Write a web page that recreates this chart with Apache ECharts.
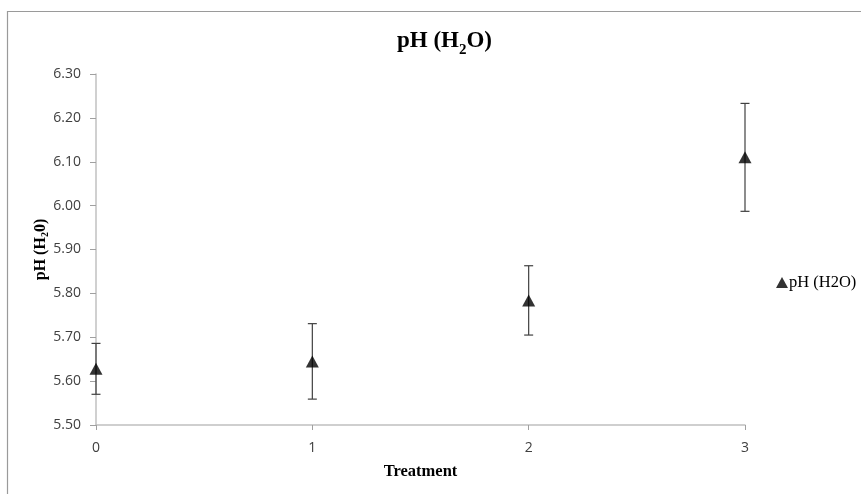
<!DOCTYPE html>
<html>
<head>
<meta charset="utf-8">
<script src="https://cdn.jsdelivr.net/npm/echarts@6/dist/echarts.min.js"></script>
<style>
html,body{margin:0;padding:0;background:#fff;}
#c{width:861px;height:494px;}
</style>
</head>
<body>
<div id="c"></div>
<script>
const treatments = [0, 1, 2, 3];
const phMeans = [5.628, 5.645, 5.784, 6.110];
const phErrors = [0.058, 0.086, 0.079, 0.123];
const yTicks = [5.50, 5.60, 5.70, 5.80, 5.90, 6.00, 6.10, 6.20, 6.30];

const chart = echarts.init(document.getElementById('c'));
const serif = '"Liberation Serif", "Times New Roman", serif';
const sans = '"Open Sans", "Liberation Sans", sans-serif';

const points = treatments.map((t, i) => [t, phMeans[i]]);
const errData = treatments.map((t, i) => [t, phMeans[i] - phErrors[i], phMeans[i] + phErrors[i]]);

chart.setOption({
  animation: false,
  backgroundColor: '#fff',
  graphic: [{
    type: 'polyline',
    shape: { points: [[7.5, 494], [7.5, 11.5], [861, 11.5]] },
    style: { stroke: '#9a9a9a', lineWidth: 1.2, fill: null },
    silent: true
  }],
  title: {
    text: '{a|pH (H}{s|2}{a|O)}',
    left: 392,
    top: 25,
    textStyle: {
      rich: {
        a: { fontFamily: serif, fontWeight: 'bold', fontSize: 23, color: '#000', verticalAlign: 'bottom' },
        s: { fontFamily: serif, fontWeight: 'bold', fontSize: 15, color: '#000', verticalAlign: 'bottom', padding: [0, 0, -5, 0] }
      }
    }
  },
  legend: {
    data: ['pH (H2O)'],
    orient: 'vertical',
    left: 771,
    top: 269,
    itemWidth: 12,
    itemHeight: 11,
    itemGap: 2,
    textStyle: { fontFamily: serif, fontSize: 16.5, color: '#000', padding: [0, 0, 0, -4] }
  },
  grid: { left: 96, right: 116, top: 74, bottom: 69, containLabel: false },
  xAxis: {
    type: 'value',
    min: 0, max: 3, interval: 1,
    name: 'Treatment',
    nameLocation: 'middle',
    nameGap: 38,
    nameMoveOverlap: false,
    nameTextStyle: { fontFamily: serif, fontWeight: 'bold', fontSize: 16.5, color: '#000' },
    axisLine: { show: true, lineStyle: { color: '#c0c0c0', width: 1.5 } },
    axisTick: { show: true, length: 5, inside: false, lineStyle: { color: '#a0a0a0' } },
    axisLabel: { fontFamily: sans, fontSize: 14, color: '#404040', margin: 16 },
    splitLine: { show: false }
  },
  yAxis: {
    type: 'value',
    min: 5.5, max: 6.3, interval: 0.1,
    name: '{a|pH (H}{s|2}{a|0)}',
    nameLocation: 'middle',
    nameGap: 46,
    nameMoveOverlap: false,
    nameRotate: 90,
    nameTextStyle: {
      rich: {
        a: { fontFamily: serif, fontWeight: 'bold', fontSize: 16, color: '#000' },
        s: { fontFamily: serif, fontWeight: 'bold', fontSize: 10, color: '#000', padding: [9, 0, 0, 0] }
      }
    },
    axisLine: { show: true, lineStyle: { color: '#c0c0c0', width: 1.5 } },
    axisTick: { show: true, length: 6, lineStyle: { color: '#a0a0a0' } },
    axisLabel: {
      fontFamily: sans, fontSize: 14, color: '#404040', margin: 15,
      formatter: v => {
        const m = yTicks.find(t => Math.abs(t - v) < 1e-6);
        return m !== undefined ? m.toFixed(2) : '';
      }
    },
    splitLine: { show: false }
  },
  series: [
    {
      name: 'pH (H2O) error',
      type: 'custom',
      data: errData,
      z: 2,
      renderItem: (params, api) => {
        const x = api.value(0);
        const lo = api.coord([x, api.value(1)]);
        const hi = api.coord([x, api.value(2)]);
        const cap = 4.5;
        const style = { stroke: '#404040', lineWidth: 1.2 };
        return {
          type: 'group',
          children: [
            { type: 'line', shape: { x1: lo[0], y1: lo[1], x2: hi[0], y2: hi[1] }, style },
            { type: 'line', shape: { x1: lo[0] - cap, y1: lo[1], x2: lo[0] + cap, y2: lo[1] }, style },
            { type: 'line', shape: { x1: hi[0] - cap, y1: hi[1], x2: hi[0] + cap, y2: hi[1] }, style }
          ]
        };
      }
    },
    {
      name: 'pH (H2O)',
      type: 'scatter',
      data: points,
      symbol: 'triangle',
      symbolSize: [13, 12],
      z: 3,
      itemStyle: { color: '#000' }
    }
  ]
});
</script>
</body>
</html>
